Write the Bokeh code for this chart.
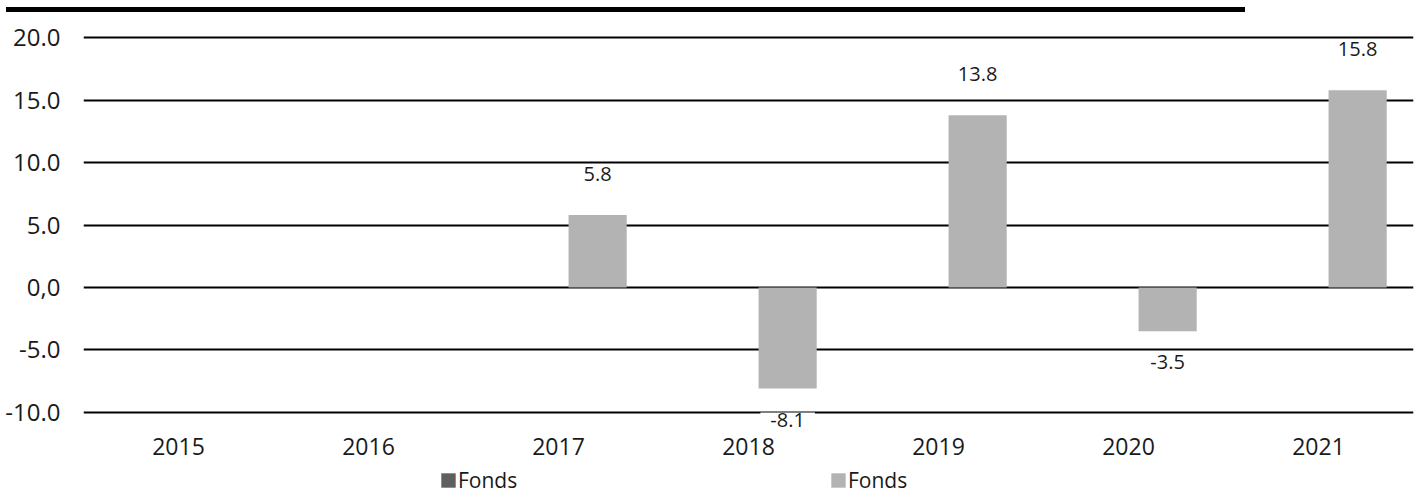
from bokeh.plotting import figure
from bokeh.models import (ColumnDataSource, Legend, LegendItem, FixedTicker,
                          Range1d, Div)
from bokeh.layouts import column
from bokeh.core.properties import value
from bokeh.embed import file_html
from bokeh.resources import INLINE

nan = float("nan")

# ---- data ----
years = ["2015", "2016", "2017", "2018", "2019", "2020", "2021"]
fonds_dark = [nan, nan, nan, nan, nan, nan, nan]
fonds_light = [nan, nan, 5.8, -8.1, 13.8, -3.5, 15.8]
y_ticks = [-10, -5, 0, 5, 10, 15, 20]
y_tick_labels = ["-10.0", "-5.0", "0,0", "5.0", "10.0", "15.0", "20.0"]

FONT = "Open Sans"
TXT = "#1a1a1a"
LIGHT = "#b3b3b3"
DARK = "#5f5f5f"

idx = list(range(len(years)))
bar_shift = 0.206
bar_w = 0.306

light_x = [i + bar_shift for i in idx]
dark_x = [i - bar_shift for i in idx]

src_light = ColumnDataSource(dict(x=light_x, top=fonds_light))
src_dark = ColumnDataSource(dict(x=dark_x, top=fonds_dark))

lab_x, lab_y, lab_t, lab_off = [], [], [], []
for xx, v in zip(light_x, fonds_light):
    if v == v:
        lab_x.append(xx)
        lab_y.append(v)
        lab_t.append(f"{v:.1f}")
        lab_off.append(-41 if v > 0 else 31)
src_lab = ColumnDataSource(dict(x=lab_x, y=lab_y, t=lab_t, off=lab_off))

p = figure(width=1418, height=483, output_backend="svg", toolbar_location=None,
           x_range=Range1d(-0.5, 6.5), y_range=Range1d(-16.667, 22.035),
           min_border_left=83, min_border_right=5, min_border_top=0,
           min_border_bottom=0)
p.outline_line_color = None
p.background_fill_color = "white"
p.border_fill_color = "white"

r_dark = p.vbar(x="x", top="top", bottom=0, width=bar_w, source=src_dark,
                fill_color=DARK, line_color=None)
r_light = p.vbar(x="x", top="top", bottom=0, width=bar_w, source=src_light,
                 fill_color=LIGHT, line_color=None)

p.text(x="x", y="y", text="t", y_offset="off", source=src_lab,
       text_font=value(FONT), text_font_size="20px", text_color=TXT,
       text_align="center", text_baseline="middle",
       background_fill_color="white",
       padding=dict(left=10, right=10, top=0, bottom=0))

# axes
p.xaxis.ticker = FixedTicker(ticks=idx)
p.xaxis.major_label_overrides = {i: y for i, y in zip(idx, years)}
p.xaxis.fixed_location = -12.02
p.yaxis.ticker = FixedTicker(ticks=y_ticks)
p.yaxis.major_label_overrides = {t: l for t, l in zip(y_ticks, y_tick_labels)}
for ax, fs in ((p.xaxis, "23px"), (p.yaxis, "24px")):
    ax.axis_line_color = None
    ax.major_tick_line_color = None
    ax.minor_tick_line_color = None
    ax.major_tick_out = 0
    ax.major_tick_in = 0
    ax.major_label_text_font = FONT
    ax.major_label_text_font_size = fs
    ax.major_label_text_color = TXT
p.xaxis.major_label_standoff = 0
p.yaxis.major_label_standoff = 23

p.xgrid.grid_line_color = None
p.ygrid.ticker = FixedTicker(ticks=y_ticks)
p.ygrid.grid_line_color = "#000000"
p.ygrid.grid_line_width = 2
p.ygrid.level = "underlay"

legend = Legend(items=[LegendItem(label="Fonds", renderers=[r_dark]),
                       LegendItem(label="Fonds", renderers=[r_light])],
                orientation="horizontal", location=(356, 1),
                glyph_width=18, glyph_height=18, label_standoff=1,
                label_width=62, spacing=309, padding=0, margin=0,
                label_text_font=FONT, label_text_font_size="21px",
                label_text_color=TXT, border_line_color=None,
                background_fill_alpha=0)
p.add_layout(legend, "center")

bar = Div(text="", width=1239, height=5, margin=(7, 0, 0, 6),
          styles={"background-color": "#000000"})

layout = column(bar, p, spacing=0)
open("out.html", "w").write(file_html(layout, INLINE))
